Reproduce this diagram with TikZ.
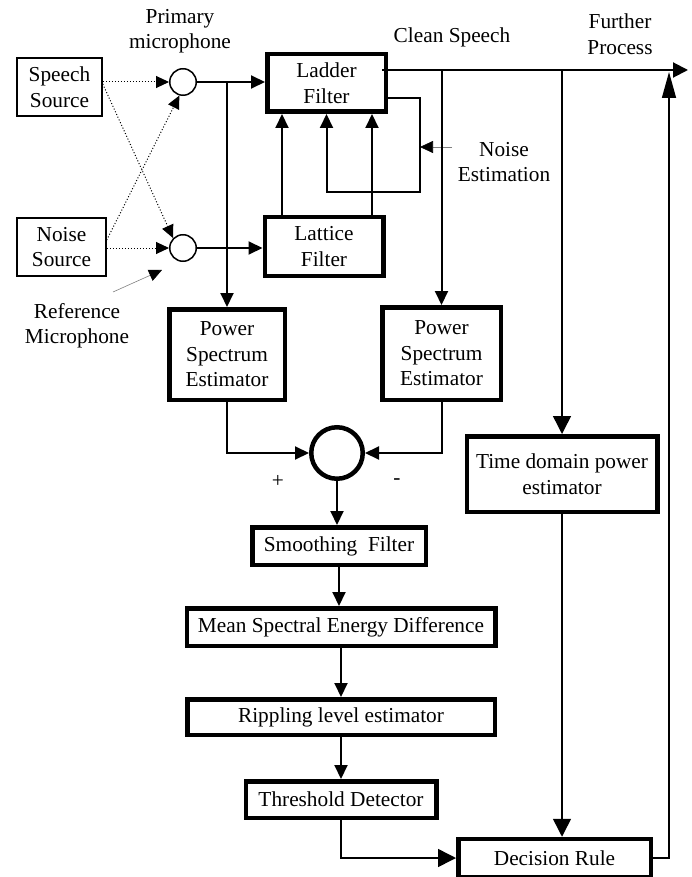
\documentclass[tikz,border=0pt]{standalone}
\usepackage{fontspec}
\setmainfont{Liberation Serif}
\usetikzlibrary{arrows.meta}

\begin{document}
\begin{tikzpicture}[x=1pt, y=-1pt,
        every node/.style = {font=\fontsize{21.3}{25.5}\selectfont, align=center, inner sep=0pt},
        src/.style = {draw, line width=1.5pt},
        blk/.style = {draw, line width=4.5pt},
        mic/.style = {draw, circle, line width=1.5pt, minimum size=26.5pt},
        sig/.style = {line width=2pt, -{Triangle[length=14pt,width=13pt]}},
        wire/.style = {line width=1.5pt, -{Triangle[length=18pt,width=18pt]}},
        leak/.style = {dotted, line width=1pt, -{Triangle[length=13pt,width=12pt]}},
        hint/.style = {gray, line width=0.6pt, -{Triangle[length=13pt,width=12pt,color=black]}}]
    \useasboundingbox (0,0) rectangle (692,877);

    \node[src, minimum width=85pt, minimum height=58pt] (speech) at (59.5,87) {Speech\\Source};
    \node[src, minimum width=89pt, minimum height=58pt] (noise) at (61.5,247) {Noise\\Source};
    \node[mic] (mic1) at (183,82) {};
    \node[mic] (mic2) at (183,248) {};
    \node[blk, minimum width=118.5pt, minimum height=57.5pt] (ladder) at (326.5,83) {Ladder\\Filter};
    \node[blk, minimum width=118.5pt, minimum height=58.5pt] (lattice) at (324,246.5) {Lattice\\Filter};
    \node[blk, minimum width=115.5pt, minimum height=90.5pt] (pse1) at (227,354.5) {Power\\Spectrum\\Estimator};
    \node[blk, minimum width=118.5pt, minimum height=92.5pt] (pse2) at (441.5,353.5) {Power\\Spectrum\\Estimator};
    \node[blk, circle, minimum size=51.5pt] (sum) at (337,453) {};
    \node[blk, minimum width=190.5pt, minimum height=75.5pt] (time) at (562,474) {Time domain power\\estimator};
    \node[blk, minimum width=173.5pt, minimum height=37.5pt] (smooth) at (339,546) {Smoothing\ \ Filter};
    \node[blk, minimum width=308.5pt, minimum height=37.5pt] (mean) at (341,627) {Mean Spectral Energy Difference};
    \node[blk, minimum width=307.5pt, minimum height=35.5pt] (ripple) at (341,717) {Rippling level estimator};
    \node[blk, minimum width=190.5pt, minimum height=36.5pt] (thresh) at (341,799.5) {Threshold Detector};
    \node[blk, minimum width=192.5pt, minimum height=38pt] (decision) at (554.5,858) {Decision Rule};

    % labels
    \node (prim) at (180,31) {Primary\\microphone};
    \node (reflbl) at (77,326) {Reference\\Microphone};
    \node (clean) at (452,37) {Clean Speech};
    \node (further) at (620,34) {Further\\Process};
    \node (nest) at (504,162) {Noise\\Estimation};
    \node (plus) at (278,481) {+};
    \node (minus) at (397,482) {-};

    \coordinate (loop) at (420,192);
    \coordinate (nept) at (452,147);
    \coordinate (refpt) at (113,292);
    \coordinate (refmic) at (162,270);
    \coordinate (out) at (688,70);
    \coordinate (fb) at (669,72);

    % acoustic paths
    \draw[leak] (speech.east |- mic1) -- (mic1.west);
    \draw[leak] ([yshift=3pt]speech.east) -- (mic2.north west);
    \draw[leak] ([yshift=7pt]noise.east) -- (mic1.255);
    \draw[leak] (noise.east |- mic2) -- (mic2.west);
    \draw[hint] (refpt) -- (refmic);

    % adaptive filter
    \draw[sig] (mic1.east) -- (ladder.west |- mic1);
    \draw[sig] (mic2.east) -- (lattice.west |- mic2);
    \draw[sig] (pse1 |- mic1) -- (pse1.north);
    \draw[sig] ([xshift=-42pt]lattice.north) -- ([xshift=-42pt]lattice.north |- ladder.south);
    \draw[sig] ([xshift=48pt]lattice.north) -- ([xshift=48pt]lattice.north |- ladder.south);
    \draw[sig] ([yshift=-15pt]ladder.east) -| (loop) -| (ladder.south);
    \draw[hint] (nept) -- (loop |- nept);

    % clean speech
    \draw[line width=2pt, -{Triangle[length=15pt,width=15pt]}] ([xshift=-6pt, yshift=13pt]ladder.east) -- (out);
    \draw[sig] (pse2 |- out) -- (pse2.north);
    \draw[wire] (time |- out) -- (time.north);
    \draw[wire] (time.south) -- (time.south |- decision.north);

    % spectral path
    \draw[sig] (pse1.south) |- (sum.west);
    \draw[sig] (pse2.south) |- (sum.east);
    \draw[sig] (sum.south) -- (sum.south |- smooth.north);
    \draw[sig] (smooth.south) -- (smooth.south |- mean.north);
    \draw[sig] (mean.south) -- (ripple.north);
    \draw[sig] (ripple.south) -- (thresh.north);
    \draw[wire] (thresh.south) |- (decision.west);
    \draw[line width=1.5pt, -{Triangle[length=26pt,width=14pt]}] (decision.east) -| (fb);
\end{tikzpicture}
\end{document}
